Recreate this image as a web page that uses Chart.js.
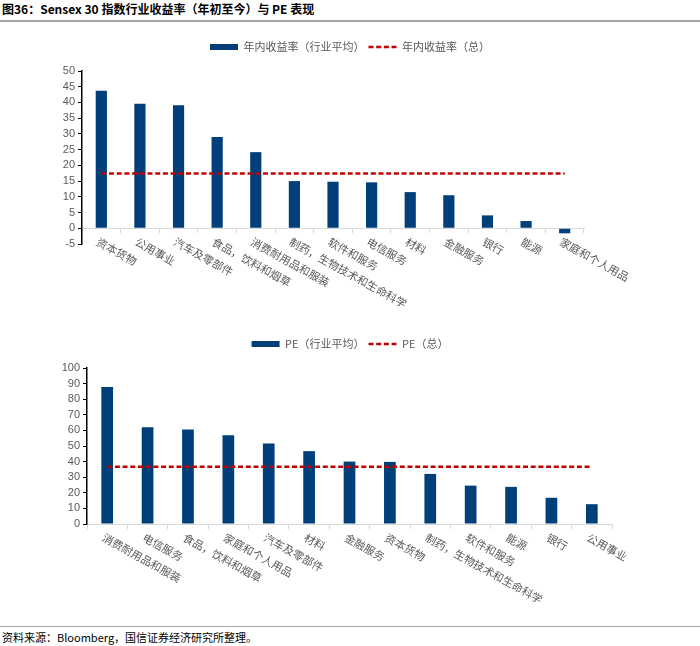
<!DOCTYPE html>
<html>
<head>
<meta charset="utf-8">
<script src="https://cdn.jsdelivr.net/npm/chart.js@4.4.0/dist/chart.umd.min.js"></script>
<style>
body { margin: 0; background: #fff; width: 700px; height: 646px; position: relative; overflow: hidden; font-family: "Noto Sans CJK SC", sans-serif; }
#titulo { position: absolute; left: 2px; top: 0px; font-size: 12px; font-weight: bold; color: #000; line-height: 18px; }
#linhaTopo { position: absolute; left: 0; top: 20px; width: 700px; height: 2px; background: #a6a6a6; }
#box1 { position: absolute; left: 0; top: 30px; width: 700px; height: 290px; }
#box2 { position: absolute; left: 0; top: 325px; width: 700px; height: 300px; }
#linhaBase { position: absolute; left: 0; top: 626px; width: 700px; height: 1px; background: #a6a6a6; }
#fonte { position: absolute; left: 2px; top: 629px; font-size: 11px; color: #000; line-height: 16px; }
</style>
</head>
<body>
<div id="titulo">图36：Sensex 30 指数行业收益率（年初至今）与 PE 表现</div>
<div id="linhaTopo"></div>
<div id="box1"><canvas id="canvasRetorno"></canvas></div>
<div id="box2"><canvas id="canvasPE"></canvas></div>
<div id="linhaBase"></div>
<div id="fonte">资料来源：Bloomberg，国信证券经济研究所整理。</div>
<script>
// grafico 1 - retorno no ano
const catRetorno = ['资本货物', '公用事业', '汽车及零部件', '食品，饮料和烟草', '消费耐用品和服装', '制药，生物技术和生命科学', '软件和服务', '电信服务', '材料', '金融服务', '银行', '能源', '家庭和个人用品'];
const valRetorno = [43.7, 39.6, 39.1, 29.0, 24.2, 15.0, 14.8, 14.6, 11.5, 10.5, 4.1, 2.3, -1.6];
const totalRetorno = 17.4;
const eixoRetorno = [-5, 50, 5]; // min, max, passo

// grafico 2 - PE
const catPE = ['消费耐用品和服装', '电信服务', '食品，饮料和烟草', '家庭和个人用品', '汽车及零部件', '材料', '金融服务', '资本货物', '制药，生物技术和生命科学', '软件和服务', '能源', '银行', '公用事业'];
const valPE = [87.9, 62.0, 60.5, 56.9, 51.6, 46.7, 40.0, 39.8, 32.1, 24.6, 23.8, 16.8, 12.7];
const totalPE = 36.7;
const eixoPE = [0, 100, 10];

const corBarra = '#003f7a';
const corLinha = '#c00000';
const fonteCJK = '"Noto Sans CJK SC", sans-serif';

// rotulos do eixo x inclinados para baixo e para a direita
const rotulosX = {
    id: 'rotulosX',
    afterDraw(chart) {
        const ctx = chart.ctx;
        const x = chart.scales.x;
        const y0 = chart.scales.y.getPixelForValue(0);
        ctx.save();
        ctx.font = '11px ' + fonteCJK;
        ctx.fillStyle = '#595959';
        ctx.textAlign = 'left';
        ctx.textBaseline = 'middle';
        chart.data.labels.forEach(function (rotulo, i) {
            ctx.save();
            ctx.translate(x.getPixelForValue(i) - 4, y0 + 12.5);
            ctx.rotate(29 * Math.PI / 180);
            ctx.fillText(rotulo, 0, 0);
            ctx.restore();
        });
        ctx.restore();
    }
};

// espaco extra entre legenda e grafico, legenda centrada na pagina
const ajusteLegenda = {
    id: 'ajusteLegenda',
    beforeInit(chart) {
        const fitOriginal = chart.legend.fit;
        chart.legend.fit = function () {
            fitOriginal.bind(chart.legend)();
            this.height += 8.5;
        };
    },
    afterLayout(chart) {
        chart.legend.left = 0;
        chart.legend.right = chart.width;
        chart.legend.width = chart.width;
    }
};

function montarGrafico(idCanvas, categorias, valores, total, nomeBarra, nomeLinha, eixo, larguraEixo, padding) {
    return new Chart(document.getElementById(idCanvas).getContext('2d'), {
        type: 'bar',
        data: {
            labels: categorias,
            datasets: [{
                type: 'line',
                label: nomeLinha,
                data: [{ x: categorias[0], y: total }, { x: categorias[categorias.length - 1], y: total }],
                borderColor: corLinha,
                borderWidth: 2.5,
                borderDash: [5, 2.7],
                pointRadius: 0,
                fill: false
            }, {
                label: nomeBarra,
                data: valores,
                backgroundColor: corBarra,
                barPercentage: 0.29,
                categoryPercentage: 1
            }]
        },
        options: {
            responsive: true,
            maintainAspectRatio: false,
            animation: false,
            layout: { padding: padding },
            plugins: {
                tooltip: { enabled: false },
                legend: {
                    position: 'top',
                    labels: {
                        usePointStyle: true,
                        pointStyleWidth: 28,
                        boxHeight: 6,
                        padding: 4,
                        color: '#595959',
                        font: { size: 11, family: fonteCJK },
                        generateLabels: function (chart) {
                            const ds = chart.data.datasets;
                            return [
                                { text: ds[1].label, fillStyle: corBarra, strokeStyle: corBarra, lineWidth: 0, pointStyle: 'rect', datasetIndex: 1, hidden: false, fontColor: '#595959' },
                                { text: ds[0].label, fillStyle: 'rgba(0,0,0,0)', strokeStyle: corLinha, lineWidth: 2.5, lineDash: [5, 2.7], pointStyle: 'line', datasetIndex: 0, hidden: false, fontColor: '#595959' }
                            ];
                        }
                    }
                }
            },
            scales: {
                x: {
                    position: { y: 0 },
                    offset: true,
                    ticks: { display: false },
                    grid: { offset: true, drawOnChartArea: false, drawTicks: true, tickLength: 4, color: '#d9d9d9' },
                    border: { color: '#d9d9d9', width: 1 }
                },
                y: {
                    min: eixo[0],
                    max: eixo[1],
                    ticks: { stepSize: eixo[2], autoSkip: false, color: '#595959', padding: 3, font: { size: 11, family: '"Liberation Sans", Arial, sans-serif' } },
                    grid: { drawOnChartArea: false, drawTicks: true, tickLength: 4, color: '#000' },
                    border: { color: '#000', width: 1.5 },
                    afterFit: function (scale) { scale.width = larguraEixo; }
                }
            }
        },
        plugins: [rotulosX, ajusteLegenda]
    });
}

montarGrafico('canvasRetorno', catRetorno, valRetorno, totalRetorno, '年内收益率（行业平均）', '年内收益率（总）', eixoRetorno, 42, { left: 40, right: 116, top: 7.5, bottom: 76 });
montarGrafico('canvasPE', catPE, valPE, totalPE, 'PE（行业平均）', 'PE（总）', eixoPE, 47, { left: 40, right: 88, top: 9.5, bottom: 101 });
</script>
</body>
</html>
